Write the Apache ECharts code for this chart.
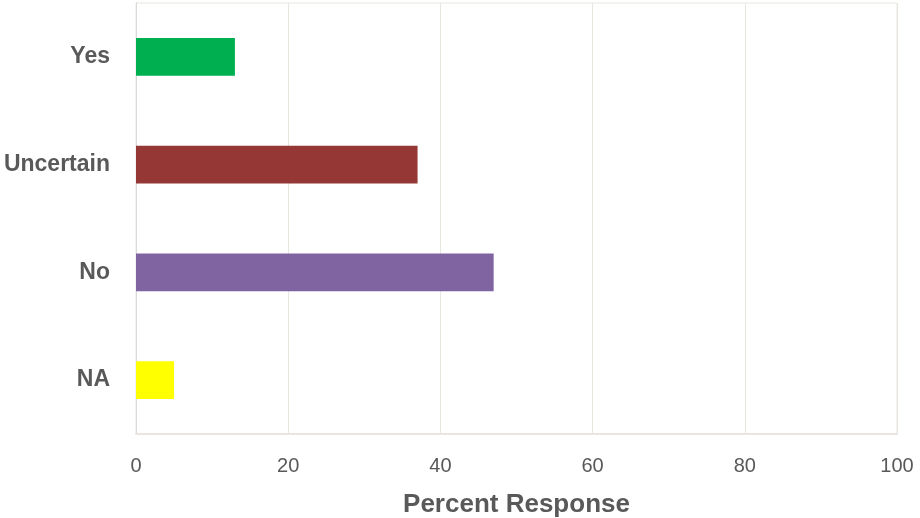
<!DOCTYPE html>
<html>
<head>
<meta charset="utf-8">
<script src="https://cdn.jsdelivr.net/npm/echarts@6/dist/echarts.min.js"></script>
<style>html,body{margin:0;padding:0;background:#fff;}#c{width:920px;height:518px;}</style>
</head>
<body>
<div id="c"></div>
<script>
const categories = ['Yes', 'Uncertain', 'No', 'NA'];
const percentValues = [13, 37, 47, 5];
const barColors = ['#00b050', '#953735', '#8064a2', '#ffff00'];
const xTicks = [0, 20, 40, 60, 80, 100];

const chart = echarts.init(document.getElementById('c'), null, {renderer: 'canvas'});
chart.setOption({
  animation: false,
  backgroundColor: '#ffffff',
  grid: {left: 136, right: 23, top: 3, bottom: 84, outerBoundsMode: 'none', containLabel: false,
         show: true, borderColor: '#e9e6df', borderWidth: 1},
  xAxis: {
    type: 'value', min: xTicks[0], max: xTicks[xTicks.length - 1], interval: 20,
    name: 'Percent Response', nameLocation: 'middle', nameGap: 58,
    nameTextStyle: {fontFamily: 'Liberation Sans', fontWeight: 'bold', fontSize: 26, color: '#595959'},
    axisLine: {show: true, lineStyle: {color: '#e9e6df', width: 2}},
    axisTick: {show: false},
    axisLabel: {fontFamily: 'Liberation Sans', fontSize: 20, color: '#595959', margin: 22},
    splitLine: {show: true, lineStyle: {color: '#e9e6df', width: 1}}
  },
  yAxis: {
    type: 'category', data: categories, inverse: true,
    axisLine: {show: true, lineStyle: {color: '#d9d9d9', width: 1}},
    axisTick: {show: false},
    axisLabel: {fontFamily: 'Liberation Sans', fontWeight: 'bold', fontSize: 23, color: '#595959', margin: 26}
  },
  series: [{
    type: 'bar',
    barWidth: '35%',
    data: percentValues.map((v, i) => ({value: v, itemStyle: {color: barColors[i]}}))
  }]
});
</script>
</body>
</html>
